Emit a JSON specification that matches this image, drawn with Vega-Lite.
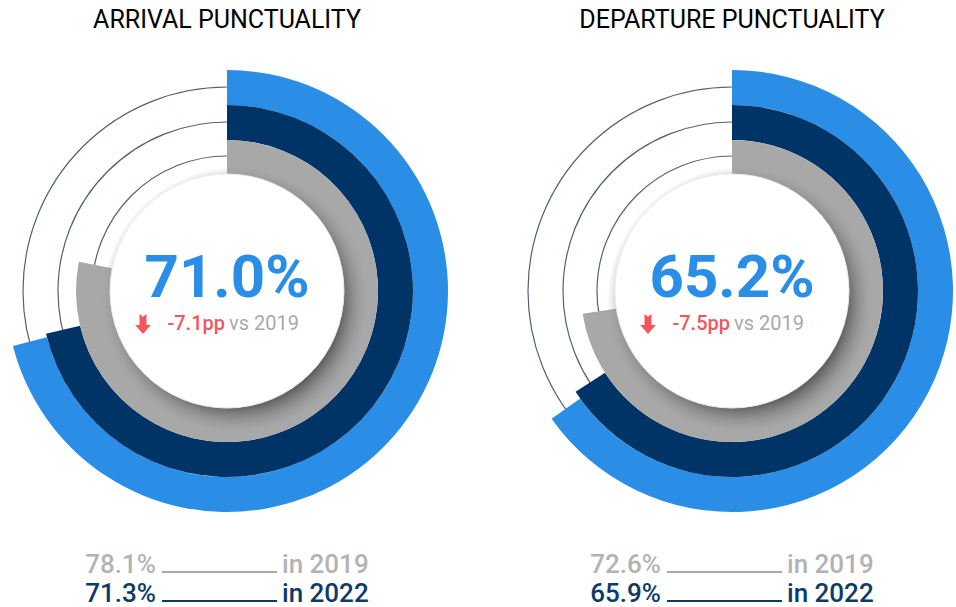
{
  "$schema": "https://vega.github.io/schema/vega-lite/v6.json",
  "width": 956,
  "height": 607,
  "autosize": {"type": "fit", "contains": "padding"},
  "padding": 0,
  "background": "white",
  "config": {"view": {"stroke": null}, "text": {"font": "Roboto"}, "scale": {"pointPadding": 0}},
  "data": {"values": [
    {"chart": "ARRIVAL PUNCTUALITY", "series": "current", "value": 0.710, "delta": "-7.1pp", "label": ""},
    {"chart": "ARRIVAL PUNCTUALITY", "series": "2022", "value": 0.713, "delta": "", "label": "in 2022"},
    {"chart": "ARRIVAL PUNCTUALITY", "series": "2019", "value": 0.781, "delta": "", "label": "in 2019"},
    {"chart": "DEPARTURE PUNCTUALITY", "series": "current", "value": 0.652, "delta": "-7.5pp", "label": ""},
    {"chart": "DEPARTURE PUNCTUALITY", "series": "2022", "value": 0.659, "delta": "", "label": "in 2022"},
    {"chart": "DEPARTURE PUNCTUALITY", "series": "2019", "value": 0.726, "delta": "", "label": "in 2019"}
  ]},
  "encoding": {
    "x": {"field": "chart", "type": "nominal", "axis": null,
          "scale": {"type": "point", "domain": ["ARRIVAL PUNCTUALITY", "DEPARTURE PUNCTUALITY"], "range": [227, 732], "padding": 0, "paddingOuter": 0}}
  },
  "layer": [
    {"transform": [{"filter": "datum.series == 'current'"}],
     "mark": {"type": "arc", "y": {"expr": "height/2-12"}, "theta": 0, "theta2": 6.2832, "radius": 204, "radius2": 0, "fill": "transparent", "stroke": "#566170", "strokeWidth": 1.2}},
    {"transform": [{"filter": "datum.series == 'current'"}],
     "mark": {"type": "arc", "y": {"expr": "height/2-12"}, "theta": 0, "theta2": 6.2832, "radius": 169, "radius2": 0, "fill": "transparent", "stroke": "#566170", "strokeWidth": 1.2}},
    {"transform": [{"filter": "datum.series == 'current'"}],
     "mark": {"type": "arc", "y": {"expr": "height/2-12"}, "theta": 0, "theta2": 6.2832, "radius": 135, "radius2": 0, "fill": "transparent", "stroke": "#566170", "strokeWidth": 1.2}},
    {"transform": [{"filter": "datum.series == 'current'"}],
     "mark": {"type": "arc", "y": {"expr": "height/2-12"}, "theta2": 0, "radius": 221, "radius2": 186, "color": "#2a8de6"},
     "encoding": {"theta": {"field": "value", "type": "quantitative", "stack": null, "scale": {"domain": [0, 1], "range": [0, 6.283185]}}}},
    {"transform": [{"filter": "datum.series == '2022'"}],
     "mark": {"type": "arc", "y": {"expr": "height/2-12"}, "theta2": 0, "radius": 186, "radius2": 151, "color": "#003467"},
     "encoding": {"theta": {"field": "value", "type": "quantitative", "stack": null, "scale": {"domain": [0, 1], "range": [0, 6.283185]}}}},
    {"transform": [{"filter": "datum.series == '2019'"}],
     "mark": {"type": "arc", "y": {"expr": "height/2-12"}, "theta2": 0, "radius": 151, "radius2": 116, "color": "#a8a8a8"},
     "encoding": {"theta": {"field": "value", "type": "quantitative", "stack": null, "scale": {"domain": [0, 1], "range": [0, 6.283185]}}}},
    {"transform": [{"filter": "datum.series == 'current'"}],
     "mark": {"type": "arc", "y": {"expr": "height/2-12"}, "xOffset": 8, "yOffset": 9, "theta": 0, "theta2": 6.2832, "radius": 133, "radius2": 0,
              "fill": {"gradient": "radial", "x1": 0.5, "y1": 0.5, "r1": 0, "x2": 0.5, "y2": 0.5, "r2": 0.5,
                       "stops": [{"offset": 0, "color": "rgba(90,90,90,0.95)"}, {"offset": 0.8, "color": "rgba(90,90,90,0.92)"}, {"offset": 1, "color": "rgba(150,150,150,0)"}]}}},
    {"transform": [{"filter": "datum.series == 'current'"}],
     "mark": {"type": "arc", "y": {"expr": "height/2-12"}, "theta": 0, "theta2": 6.2832, "radius": 117, "radius2": 0, "fill": "white", "stroke": "#ececec", "strokeWidth": 1}},
    {"transform": [{"filter": "datum.series == 'current'"}],
     "mark": {"type": "text", "y": {"expr": "height/2-12"}, "dy": -263, "baseline": "alphabetic", "align": "center", "fontSize": 25, "fontWeight": "normal", "color": "#000000"},
     "encoding": {"text": {"field": "chart"}}},
    {"transform": [{"filter": "datum.series == 'current'"}],
     "mark": {"type": "text", "y": {"expr": "height/2-12"}, "dy": 6, "baseline": "alphabetic", "align": "center", "fontSize": 60, "fontWeight": "bold", "color": "#2a8de6"},
     "encoding": {"text": {"field": "value", "type": "quantitative", "format": ".1%"}}},
    {"transform": [{"filter": "datum.series == 'current'"}],
     "mark": {"type": "text", "y": {"expr": "height/2-12"}, "dy": 39, "dx": -2, "baseline": "alphabetic", "align": "right", "fontSize": 20, "fontWeight": 500, "color": "#f4555c"},
     "encoding": {"text": {"field": "delta"}}},
    {"transform": [{"filter": "datum.series == 'current'"}],
     "mark": {"type": "text", "y": {"expr": "height/2-12"}, "dy": 39, "dx": 2, "baseline": "alphabetic", "align": "left", "fontSize": 20, "color": "#a9a9a9", "text": "vs 2019"},
     "encoding": {}},
    {"transform": [{"filter": "datum.series == 'current'"}],
     "mark": {"type": "point", "y": {"expr": "height/2-12"}, "xOffset": -84, "yOffset": 33, "filled": true, "color": "#f4555c", "opacity": 1, "size": 400,
              "shape": "M-0.35,-1 L0,-0.72 L0.35,-1 L0.35,0.1 L0.78,0.1 L0,1 L-0.78,0.1 L-0.35,0.1 Z"},
     "encoding": {}},
    {"transform": [{"filter": "datum.series == '2019'"}],
     "mark": {"type": "text", "y": {"expr": "height/2-12"}, "dy": 282, "dx": -71, "baseline": "alphabetic", "align": "right", "fontSize": 26, "fontWeight": 500, "color": "#b3b3b3"},
     "encoding": {"text": {"field": "value", "type": "quantitative", "format": ".1%"}}},
    {"transform": [{"filter": "datum.series == '2019'"}],
     "mark": {"type": "text", "y": {"expr": "height/2-12"}, "dy": 282, "dx": 55, "baseline": "alphabetic", "align": "left", "fontSize": 26, "fontWeight": 500, "color": "#b3b3b3"},
     "encoding": {"text": {"field": "label"}}},
    {"transform": [{"filter": "datum.series == '2019'"}],
     "mark": {"type": "rule", "y": {"expr": "height/2-12+281"}, "xOffset": -65, "x2Offset": 50, "color": "#a8a8a8", "strokeWidth": 2},
     "encoding": {"x2": {"field": "chart"}}},
    {"transform": [{"filter": "datum.series == '2022'"}],
     "mark": {"type": "text", "y": {"expr": "height/2-12"}, "dy": 311, "dx": -71, "baseline": "alphabetic", "align": "right", "fontSize": 26, "fontWeight": 500, "color": "#0b3a6b"},
     "encoding": {"text": {"field": "value", "type": "quantitative", "format": ".1%"}}},
    {"transform": [{"filter": "datum.series == '2022'"}],
     "mark": {"type": "text", "y": {"expr": "height/2-12"}, "dy": 311, "dx": 55, "baseline": "alphabetic", "align": "left", "fontSize": 26, "fontWeight": 500, "color": "#0b3a6b"},
     "encoding": {"text": {"field": "label"}}},
    {"transform": [{"filter": "datum.series == '2022'"}],
     "mark": {"type": "rule", "y": {"expr": "height/2-12+310"}, "xOffset": -65, "x2Offset": 50, "color": "#0b3a6b", "strokeWidth": 2},
     "encoding": {"x2": {"field": "chart"}}}
  ]
}
